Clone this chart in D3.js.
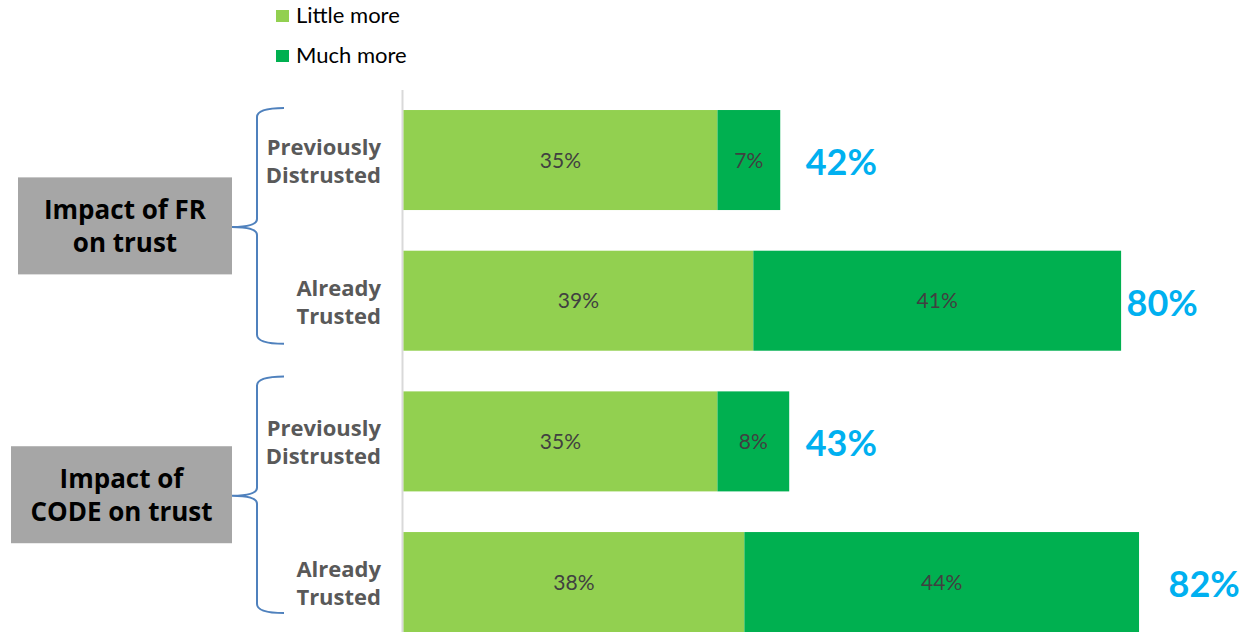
<!DOCTYPE html>
<html>
<head>
<meta charset="utf-8">
<script src="https://cdn.jsdelivr.net/npm/d3@7"></script>
<style>
  html, body { margin: 0; padding: 0; background: #fff; }
  svg { display: block; }
</style>
</head>
<body>
<svg id="chart" width="1245" height="632"></svg>
<script>
// Trust impact, stacked bars per respondent group
const seriesNames = ["Little more", "Much more"];
const categories = ["Previously|Distrusted", "Already|Trusted", "Previously|Distrusted", "Already|Trusted"];
const groups = ["Impact of FR|on trust", "Impact of|CODE on trust"];
const littleMore = [35, 39, 35, 38];
const muchMore = [7, 41, 8, 44];
const totals = [42, 80, 43, 82];

const colors = ["#92D050", "#00B050"];
const svg = d3.select("#chart");

const rows = categories.map((c, i) => ({ i, label: c, little: littleMore[i], much: muchMore[i], total: totals[i] }));

const x = d3.scaleLinear().domain([0, 100]).range([403, 1300]);
const y = d3.scaleBand()
  .domain(rows.map(d => d.i))
  .range([89.7, 652.4])
  .paddingInner(0.289)
  .paddingOuter(0.1445);

const stack = d3.stack().keys(["little", "much"]);
const layers = stack(rows);

// vertical baseline axis
svg.append("line")
  .attr("x1", x(0) - 0.5).attr("x2", x(0) - 0.5)
  .attr("y1", 90).attr("y2", 632)
  .attr("stroke", "#D9D9D9").attr("stroke-width", 2);

// stacked segments
const layerG = svg.selectAll("g.layer").data(layers).join("g")
  .attr("class", "layer")
  .attr("fill", (d, k) => colors[k]);

layerG.selectAll("rect").data(d => d).join("rect")
  .attr("x", d => x(d[0]) + 0.5)
  .attr("y", d => y(d.data.i))
  .attr("width", d => x(d[1]) - x(d[0]))
  .attr("height", y.bandwidth());

// segment value labels
layerG.selectAll("text").data(d => d).join("text")
  .attr("x", d => (x(d[0]) + x(d[1])) / 2 + 0.5)
  .attr("y", d => y(d.data.i) + y.bandwidth() / 2)
  .attr("dy", "0.36em")
  .attr("text-anchor", "middle")
  .attr("font-family", "Lato, 'Open Sans', sans-serif")
  .attr("font-size", 21)
  .attr("fill", "#404040")
  .text(d => (d[1] - d[0]) + "%");

// totals to the right of each bar
const totalGap = [26, 6, 17, 30];
svg.selectAll("text.total").data(rows).join("text")
  .attr("class", "total")
  .attr("x", d => x(d.total) + totalGap[d.i])
  .attr("y", d => y(d.i) + y.bandwidth() / 2 + 2)
  .attr("dy", "0.36em")
  .attr("font-family", "Lato, 'Open Sans', sans-serif")
  .attr("font-weight", 700)
  .attr("font-size", 36)
  .attr("fill", "#00B0F0")
  .text(d => d.total + "%");

// row labels
svg.selectAll("text.cat").data(rows).join("text")
  .attr("class", "cat")
  .attr("text-anchor", "end")
  .attr("font-family", "'Open Sans', sans-serif")
  .attr("font-weight", 700)
  .attr("font-size", 22)
  .attr("fill", "#595959")
  .each(function (d) {
    const lines = d.label.split("|");
    const cy = y(d.i) + y.bandwidth() / 2;
    d3.select(this).selectAll("tspan").data(lines).join("tspan")
      .attr("x", 381)
      .attr("y", (l, j) => cy - 5 + j * 28)
      .text(l => l);
  });

// group braces and boxes
const boxLeft = [18, 11];
const braceInset = [[2, 7], [15, 19]];
groups.forEach((g, gi) => {
  const r0 = gi * 2, r1 = gi * 2 + 1;
  const yT = y(r0) - braceInset[gi][0];
  const yB = y(r1) + y.bandwidth() - braceInset[gi][1];
  const yM = (yT + yB) / 2 + 1;
  const xe = 284, xv = 257, xt = 232;
  const p = d3.path();
  p.moveTo(xe, yT);
  p.quadraticCurveTo(xv, yT, xv, yT + 9);
  p.lineTo(xv, yM - 8);
  p.quadraticCurveTo(xv, yM, xt, yM);
  p.quadraticCurveTo(xv, yM, xv, yM + 8);
  p.lineTo(xv, yB - 9);
  p.quadraticCurveTo(xv, yB, xe, yB);
  svg.append("path")
    .attr("d", p.toString())
    .attr("fill", "none")
    .attr("stroke", "#4F81BD")
    .attr("stroke-width", 2);

  const bh = 97;
  const by = yM - bh / 2 - 1;
  svg.append("rect")
    .attr("x", boxLeft[gi]).attr("y", by)
    .attr("width", xt - boxLeft[gi]).attr("height", bh)
    .attr("fill", "#A6A6A6");

  const cx = (boxLeft[gi] + xt) / 2;
  const t = svg.append("text")
    .attr("text-anchor", "middle")
    .attr("font-family", "'Open Sans', sans-serif")
    .attr("font-weight", 700)
    .attr("font-size", 26)
    .attr("fill", "#000");
  g.split("|").forEach((line, j) => {
    t.append("tspan").attr("x", cx).attr("y", by + bh / 2 - 7 + j * 33).text(line);
  });
});

// legend
const legend = svg.selectAll("g.legend").data(seriesNames).join("g")
  .attr("class", "legend")
  .attr("transform", (d, k) => `translate(276, ${10 + k * 40})`);
legend.append("rect")
  .attr("width", 13).attr("height", 12)
  .attr("fill", (d, k) => colors[k]);
legend.append("text")
  .attr("x", 20).attr("y", 13)
  .attr("font-family", "Lato, 'Open Sans', sans-serif")
  .attr("font-size", 22)
  .attr("fill", "#000")
  .text(d => d);
</script>
</body>
</html>
